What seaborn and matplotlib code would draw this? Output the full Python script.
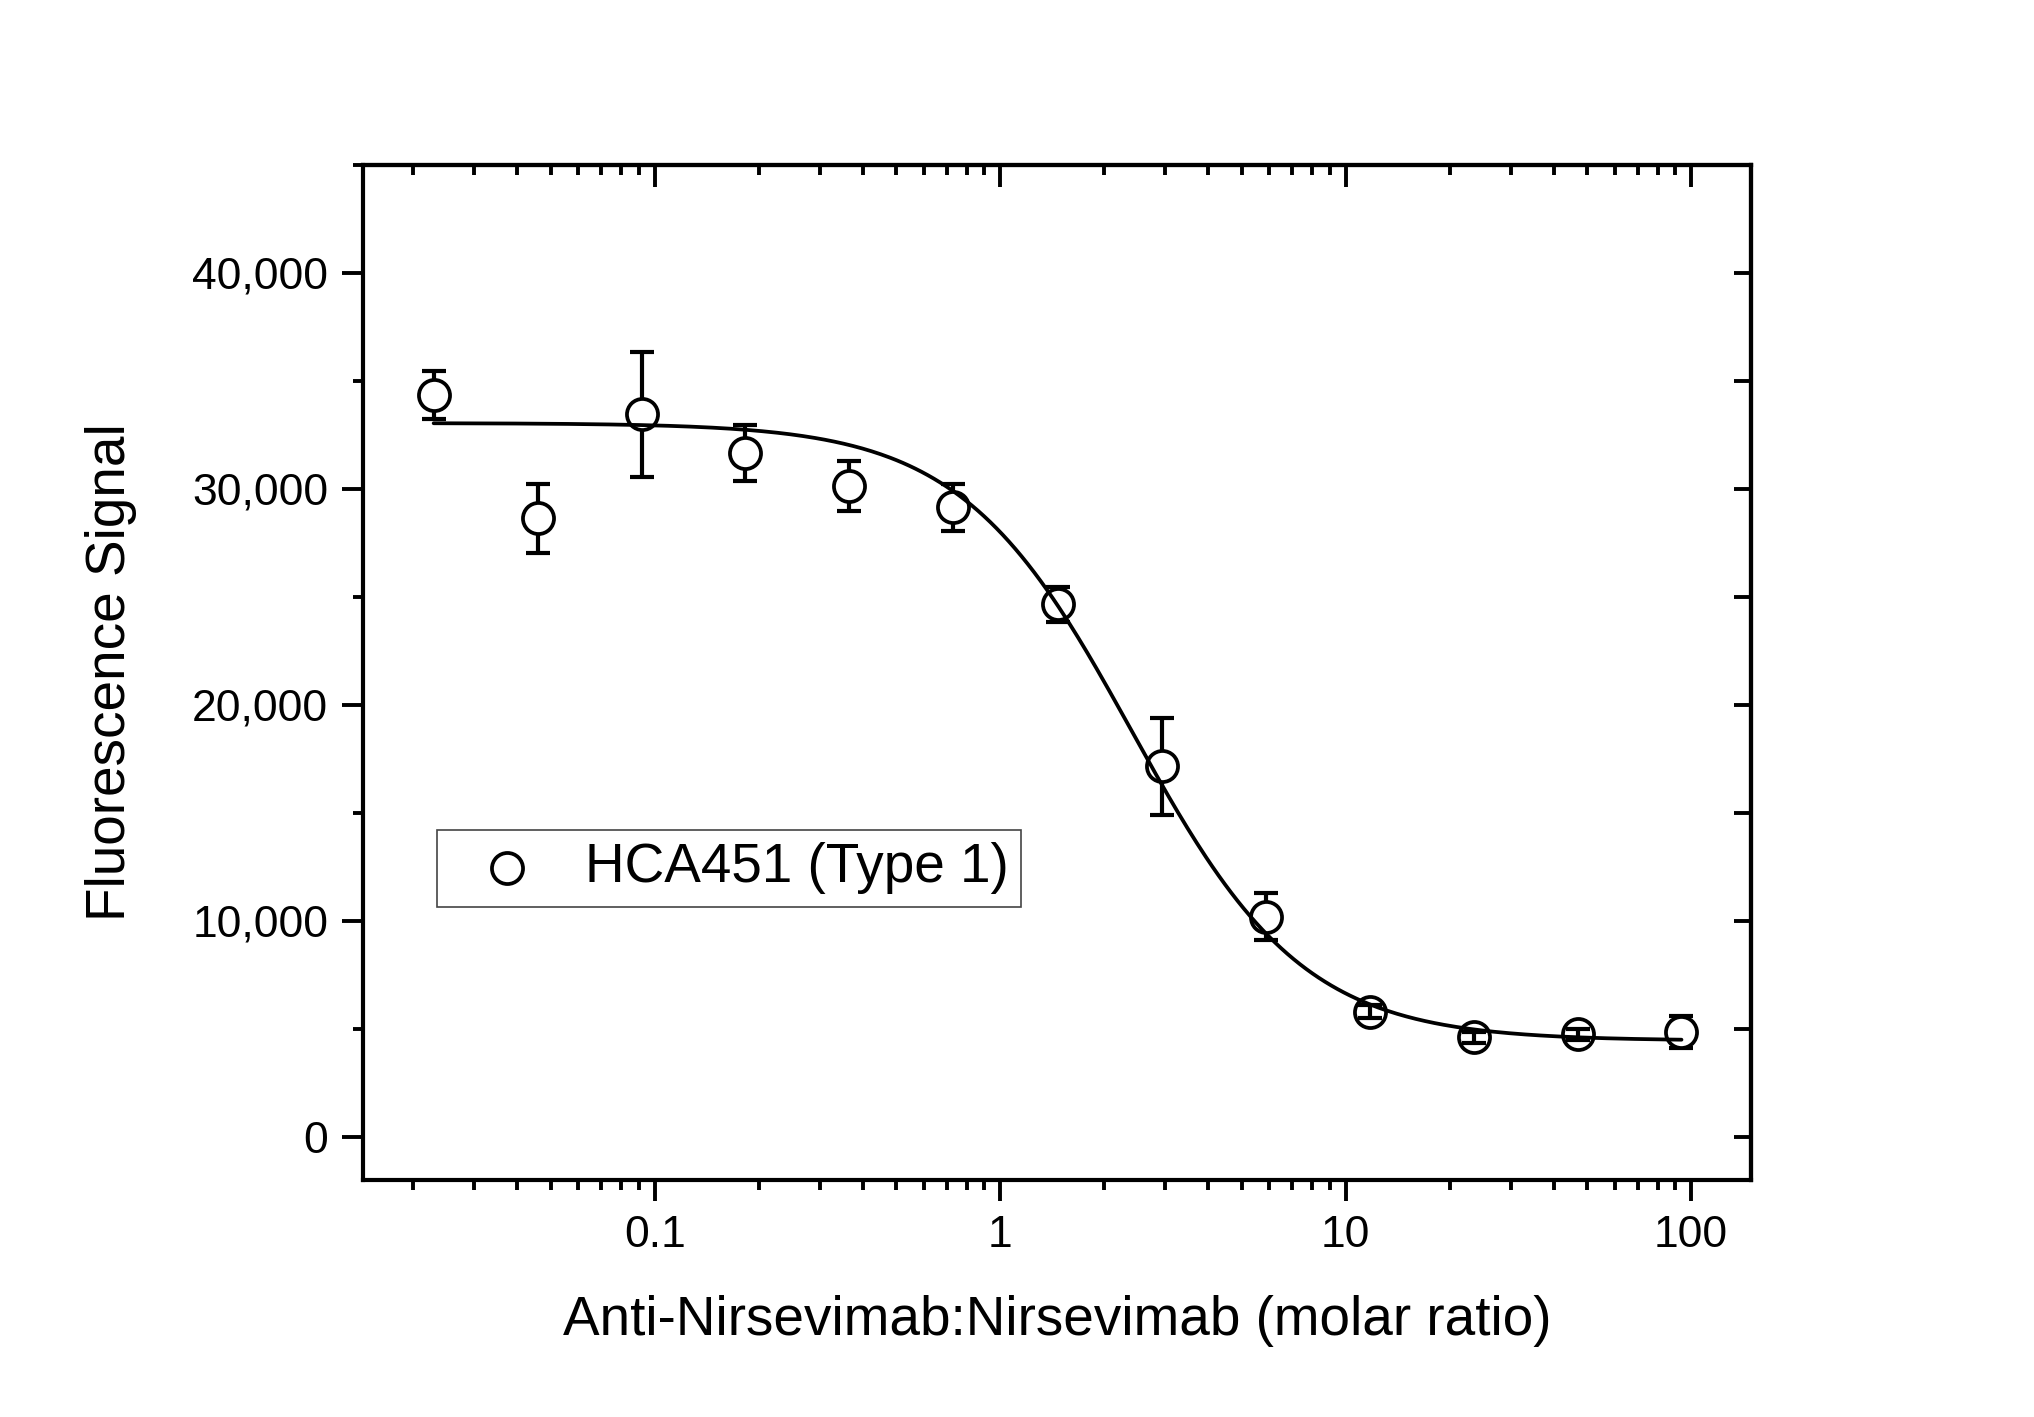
import numpy as np
import pandas as pd
import matplotlib
matplotlib.use("Agg")
import matplotlib.pyplot as plt
import seaborn as sns
from matplotlib.ticker import FuncFormatter, LogLocator, MultipleLocator, NullFormatter

# molar ratio (2-fold dilution series) and signal
ratio = [0.0229, 0.0458, 0.0916, 0.183, 0.366, 0.732, 1.465, 2.93, 5.86, 11.72, 23.44, 46.88, 93.75]
signal = [34350, 28650, 33450, 31650, 30150, 29150, 24650, 17150, 10200, 5800, 4600, 4750, 4850]
sd = [1100, 1600, 2900, 1300, 1150, 1100, 800, 2250, 1100, 300, 250, 250, 750]
series_label = "HCA451 (Type 1)"

# 4PL fit parameters
fit_top = 33050
fit_bottom = 4450
fit_ec50 = 2.41
fit_hill = 1.75

df = pd.DataFrame({"ratio": ratio, "signal": signal, "sd": sd})
xfit = np.logspace(np.log10(ratio[0]), np.log10(ratio[-1]), 400)
fit_df = pd.DataFrame({"ratio": xfit,
                       "signal": fit_bottom + (fit_top - fit_bottom) / (1 + (xfit / fit_ec50) ** fit_hill)})

sns.set_theme(style="ticks")
plt.rcParams["font.family"] = ["Liberation Sans", "DejaVu Sans"]
plt.rcParams["text.color"] = "black"
plt.rcParams["axes.labelcolor"] = "black"
plt.rcParams["xtick.color"] = "black"
plt.rcParams["ytick.color"] = "black"

fig, ax = plt.subplots(figsize=(20.34, 14.17), dpi=100)
fig.subplots_adjust(left=363 / 2034, right=1751 / 2034, bottom=1 - 1180 / 1417, top=1 - 165 / 1417)

ax.set_xscale("log")

# error bars under white markers, fit line on top
ax.errorbar(df["ratio"], df["signal"], yerr=df["sd"], fmt="none", ecolor="black",
            elinewidth=3.0, capsize=8.5, capthick=3.0, zorder=2)
sns.scatterplot(data=df, x="ratio", y="signal", ax=ax, marker="o", s=500,
                facecolor="white", edgecolor="black", linewidth=2.7, zorder=3,
                label=series_label)
small = df[df["sd"] < 600]
ax.errorbar(small["ratio"], small["signal"], yerr=small["sd"], fmt="none", ecolor="black",
            elinewidth=3.0, capsize=8.5, capthick=3.0, zorder=4)
sns.lineplot(data=fit_df, x="ratio", y="signal", ax=ax, color="black", linewidth=2.7,
             zorder=5, legend=False)

ax.set_xlim(0.0143, 149)
ax.set_ylim(-2000, 45000)

ax.xaxis.set_major_locator(LogLocator(base=10))
ax.xaxis.set_minor_locator(LogLocator(base=10, subs=np.arange(2, 10)))
ax.xaxis.set_minor_formatter(NullFormatter())
ax.xaxis.set_major_formatter(FuncFormatter(lambda v, p: f"{v:g}"))
ax.yaxis.set_major_locator(MultipleLocator(10000))
ax.yaxis.set_minor_locator(MultipleLocator(5000))
ax.yaxis.set_major_formatter(FuncFormatter(lambda v, p: f"{int(v):,}"))

for s in ax.spines.values():
    s.set_linewidth(3.0)
    s.set_color("black")

ax.tick_params(which="major", direction="out", length=15, width=2.8, labelsize=32,
               colors="black", pad=10)
ax.tick_params(which="minor", direction="out", length=7, width=2.8)

# mirrored ticks pointing inward on top and right
top = ax.secondary_xaxis("top")
top.xaxis.set_major_locator(LogLocator(base=10))
top.xaxis.set_minor_locator(LogLocator(base=10, subs=np.arange(2, 10)))
top.xaxis.set_major_formatter(NullFormatter())
top.xaxis.set_minor_formatter(NullFormatter())
top.tick_params(which="major", direction="in", length=16, width=2.8, colors="black")
top.tick_params(which="minor", direction="in", length=7, width=2.8, colors="black")
top.spines["top"].set_linewidth(3.0)

right = ax.secondary_yaxis("right")
right.yaxis.set_major_locator(MultipleLocator(5000))
right.yaxis.set_major_formatter(NullFormatter())
right.tick_params(which="major", direction="in", length=12, width=2.8, colors="black")
right.spines["right"].set_linewidth(3.0)

ax.set_xlabel("Anti-Nirsevimab:Nirsevimab (molar ratio)", fontsize=39.5, labelpad=28)
ax.set_ylabel("Fluorescence Signal", fontsize=39.5, labelpad=40)

leg = ax.legend(loc="upper left", bbox_to_anchor=(0.053, 0.345), borderaxespad=0,
                fontsize=39.5, frameon=True, fancybox=False, framealpha=1,
                edgecolor="#444444", handletextpad=0.37, borderpad=0.23,
                handlelength=2.1)
leg.get_frame().set_linewidth(1.2)

plt.savefig("out.png", dpi=100)
plt.close()
